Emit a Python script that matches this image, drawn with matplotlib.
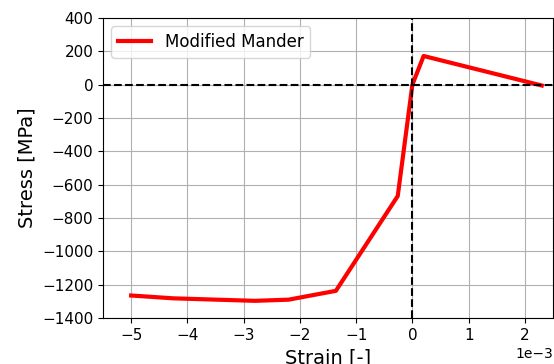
import matplotlib
matplotlib.use("Agg")
import matplotlib.pyplot as plt

strain = [-5.0e-3, -4.25e-3, -2.8e-3, -2.2e-3, -1.36e-3, -0.26e-3, 0.0, 0.2e-3, 2.3e-3]
stress = [-1265, -1282, -1297, -1290, -1237, -668, 0, 172, -5]
label = "Modified Mander"

fig = plt.figure(figsize=(5.54, 3.64), dpi=100)
ax = fig.add_axes([103/554, 1-318/364, 450/554, 300/364])
ax.plot(strain, stress, color="red", linewidth=3, label=label)
ax.axhline(0, color="black", linestyle="--", linewidth=1.5)
ax.axvline(0, color="black", linestyle="--", linewidth=1.5)
ax.set_xlim(-5.5e-3, 2.5e-3)
ax.set_ylim(-1400, 400)
ax.set_yticks(range(-1400, 401, 200))
ax.ticklabel_format(axis="x", style="sci", scilimits=(0, 0))
ax.grid(True)
ax.tick_params(labelsize=11)
ax.xaxis.get_offset_text().set_fontsize(10)
ax.set_xlabel("Strain [-]", fontsize=14)
ax.set_ylabel("Stress [MPa]", fontsize=14)
ax.legend(loc="upper left", fontsize=12)
fig.savefig("out.png", dpi=100)
